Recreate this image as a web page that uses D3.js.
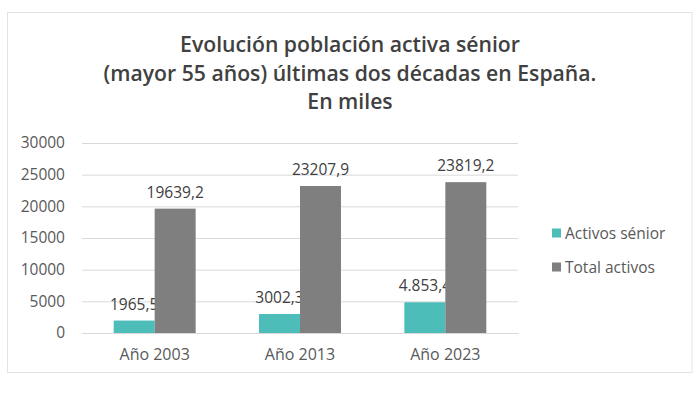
<!DOCTYPE html>
<html><head><meta charset="utf-8">
<script src="https://cdn.jsdelivr.net/npm/d3@7"></script>
<style>body{margin:0;background:#fff;}svg{display:block;}</style>
</head><body>
<svg id="c" width="700" height="393"></svg>
<script>
const titleLines = ["Evolución población activa sénior", "(mayor 55 años) últimas dos décadas en España.", "En miles"];
const categories = ["Año 2003", "Año 2013", "Año 2023"];
const seriesNames = ["Activos sénior", "Total activos"];
const activosSenior = [1965.5, 3002.3, 4853.4];
const totalActivos = [19639.2, 23207.9, 23819.2];
const labelsSenior = ["1965,5", "3002,3", "4.853,4"];
const labelsTotal = ["19639,2", "23207,9", "23819,2"];
const yTicks = [0, 5000, 10000, 15000, 20000, 25000, 30000];
const colors = ["#4dbdb9", "#7f7f7f"];

const svg = d3.select("#c");
const font = "'Open Sans', sans-serif";

svg.append("rect").attr("x", 7.5).attr("y", 12.5).attr("width", 684.5).attr("height", 360)
  .attr("fill", "#fff").attr("stroke", "#e3e3e3");

const title = svg.append("g");
const tBase = [52, 81, 109];
titleLines.forEach((t, i) => {
  title.append("text").attr("x", 350).attr("y", tBase[i]).attr("text-anchor", "middle")
    .attr("font-family", font).attr("font-weight", 600).attr("font-size", 21.2)
    .attr("fill", "#404040").text(t);
});

const x = d3.scaleBand().domain(categories).range([82, 518]).paddingInner(0.436).paddingOuter(0.218);
const xs = d3.scaleBand().domain(seriesNames).range([0, x.bandwidth()]);
const y = d3.scaleLinear().domain([0, 30000]).range([333, 143]);

const yAxis = d3.axisLeft(y).tickValues(yTicks).tickSize(-436).tickPadding(17).tickFormat(d3.format("d"));
const ga = svg.append("g").attr("transform", "translate(82,0)").call(yAxis);
ga.select(".domain").remove();
ga.selectAll(".tick line").attr("stroke", "#d9d9d9");
ga.selectAll(".tick text").attr("font-family", font).attr("font-size", 15.5).attr("fill", "#595959");

const xAxis = d3.axisBottom(x).tickSize(0).tickPadding(16);
const gx = svg.append("g").attr("transform", "translate(0,333)").call(xAxis);
gx.select(".domain").attr("stroke", "#d9d9d9");
gx.selectAll(".tick text").attr("font-family", font).attr("font-size", 16).attr("fill", "#595959");

const series = [activosSenior, totalActivos];
const labels = [labelsSenior, labelsTotal];
series.forEach((vals, s) => {
  svg.append("g").selectAll("rect").data(vals).join("rect")
    .attr("x", (d, i) => x(categories[i]) + xs(seriesNames[s]))
    .attr("y", d => y(d)).attr("width", xs.bandwidth()).attr("height", d => y(0) - y(d))
    .attr("fill", colors[s]);
  svg.append("g").selectAll("text").data(vals).join("text")
    .attr("x", (d, i) => x(categories[i]) + xs(seriesNames[s]) + xs.bandwidth() / 2)
    .attr("y", d => y(d) - 11).attr("text-anchor", "middle")
    .attr("font-family", font).attr("font-size", 15.5).attr("fill", "#404040")
    .text((d, i) => labels[s][i]);
});

const leg = svg.append("g");
seriesNames.forEach((n, i) => {
  const cy = 233 + i * 34;
  leg.append("rect").attr("x", 552).attr("y", cy - 4.5).attr("width", 9).attr("height", 9).attr("fill", colors[i]);
  leg.append("text").attr("x", 565).attr("y", cy + 5.5).attr("font-family", font)
    .attr("font-size", 15.5).attr("fill", "#595959").text(n);
});
</script>
</body></html>
